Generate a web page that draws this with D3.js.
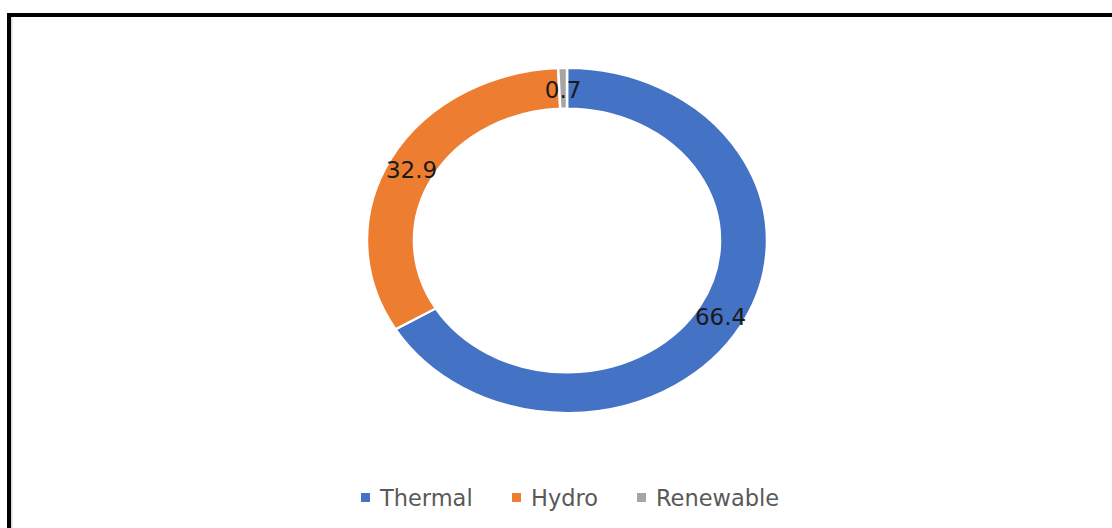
<!DOCTYPE html>
<html>
<head>
<meta charset="utf-8">
<script src="https://cdn.jsdelivr.net/npm/d3@7"></script>
<style>
  html, body { margin: 0; padding: 0; background: #fff; }
  svg { display: block; }
</style>
</head>
<body>
<svg id="chart" width="1112" height="528"></svg>
<script>
// Electricity generation mix (%)
const categories = ["Thermal", "Hydro", "Renewable"];
const shares = [66.4, 32.9, 0.7];
const colors = ["#4472C4", "#ED7D31", "#A5A5A5"];

const W = 1112, H = 528;
const svg = d3.select("#chart");

// Frame: heavy top and left rules
svg.append("rect").attr("x", 7).attr("y", 13).attr("width", W - 7).attr("height", 4).attr("fill", "#000");
svg.append("rect").attr("x", 7).attr("y", 13).attr("width", 4).attr("height", H - 13).attr("fill", "#000");
svg.append("rect").attr("x", 11).attr("y", 17).attr("width", 1.5).attr("height", H - 17).attr("fill", "#d9d9d9");

// Donut geometry (slightly flattened vertically)
const cx = 567, cy = 240.5;
const rOuter = 200, rInner = 153;
const yScale = 172.5 / 200;

const pie = d3.pie().sort(null).value(d => d)(shares);
const arc = d3.arc().innerRadius(rInner).outerRadius(rOuter);

const ring = svg.append("g")
  .attr("transform", `translate(${cx},${cy}) scale(1,${yScale})`);

ring.selectAll("path")
  .data(pie)
  .join("path")
  .attr("d", arc)
  .attr("fill", (d, i) => colors[i])
  .attr("stroke", "#fff")
  .attr("stroke-width", 2.5)
  .attr("stroke-linejoin", "round");

// Value labels at the ring segment centroids
svg.append("g").selectAll("text")
  .data(pie)
  .join("text")
  .attr("x", d => cx + arc.centroid(d)[0])
  .attr("y", d => cy + 1.5 + arc.centroid(d)[1] * yScale)
  .attr("text-anchor", "middle")
  .attr("dominant-baseline", "central")
  .attr("font-family", "DejaVu Sans, sans-serif")
  .attr("font-size", 23)
  .attr("fill", "#1a1a1a")
  .text(d => d.data.toFixed(1));

// Legend
const legendX = [361, 512, 637];
const legend = svg.append("g");
categories.forEach((c, i) => {
  legend.append("rect")
    .attr("x", legendX[i]).attr("y", 493)
    .attr("width", 9).attr("height", 9)
    .attr("fill", colors[i]);
  legend.append("text")
    .attr("x", legendX[i] + 19).attr("y", 497.5)
    .attr("dominant-baseline", "central")
    .attr("font-family", "DejaVu Sans, sans-serif")
    .attr("font-size", 22.5)
    .attr("fill", "#595959")
    .text(c);
});
</script>
</body>
</html>
